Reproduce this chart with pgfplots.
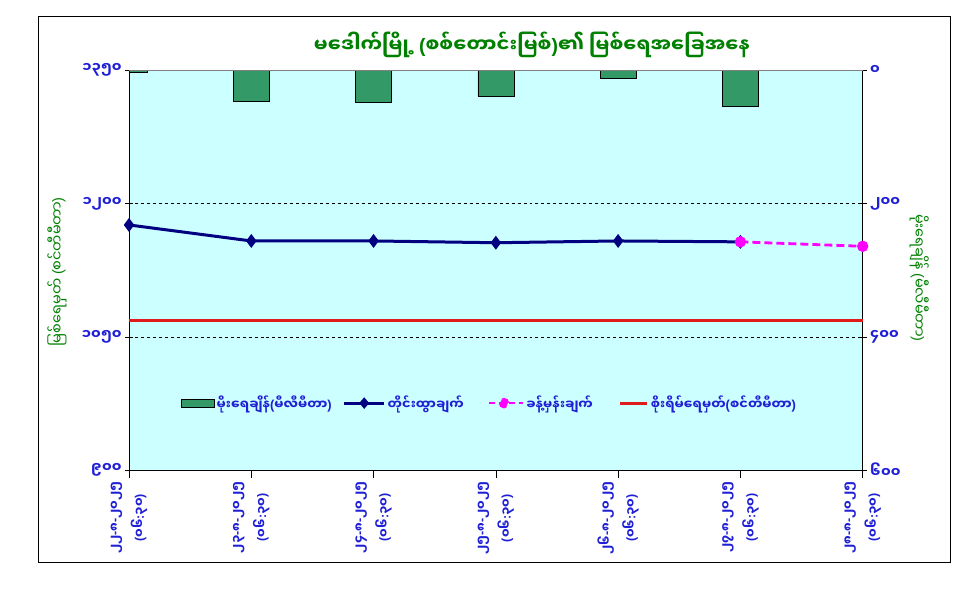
\documentclass[border=0pt]{standalone}
\usepackage{fontspec}
\setmainfont[Script=Myanmar]{Noto Sans Myanmar UI}
\newfontfamily\latf{Liberation Sans}
\protected\def\LP{{\latf(}}
\protected\def\RP{{\latf)}}
\protected\def\HY{{\latf-}}
\protected\def\CL{{\latf:}}
\usepackage{pgfplots}
\pgfplotsset{compat=1.18}
\definecolor{bg}{HTML}{CCFFFF}
\definecolor{bargreen}{HTML}{339966}
\definecolor{navy}{HTML}{000080}
\definecolor{tickblue}{HTML}{1F1FD6}
\definecolor{labgreen}{HTML}{008000}
\definecolor{dangerred}{HTML}{E01A1A}
\definecolor{fcmag}{HTML}{FF00FF}
\begin{document}
\begin{tikzpicture}[x=1bp,y=1bp]
\path[use as bounding box] (0,0) rectangle (977,589);
\draw[black, line width=1bp] (38.7,26.7) rectangle (950,572);
\node[text=labgreen, font=\bfseries\fontsize{19.5}{23}\selectfont, anchor=center] at (532,544) {မဒေါက်မြို့ \LP စစ်တောင်းမြစ်\RP ၏ မြစ်ရေအခြေအနေ};

% rainfall axis (right, reversed)
\begin{axis}[
  at={(129bp,118.7bp)}, anchor=south west,
  scale only axis, width=733.7bp, height=400bp,
  xmin=0, xmax=6,
  ymin=0, ymax=600, y dir=reverse,
  axis x line=none,
  axis y line*=right,
  axis line style={black, line width=0.8bp},
  axis background/.style={fill=bg},
  ytick={0,200,400,600},
  yticklabels={၀,၂၀၀,၄၀၀,၆၀၀},
  ytick align=center,
  major tick length=8bp,
  tick style={black, line width=0.6bp},
  yticklabel style={text=tickblue, font=\bfseries\fontsize{14}{16}\selectfont},
  ylabel={မိုးရေချိန် \LP မီလီမီတာ\RP},
  every axis y label/.style={at={(rel axis cs:1.077,0.481)}, anchor=center, rotate=-90, text=labgreen, font=\fontsize{14.5}{16}\selectfont},
]
\addplot[ybar, bar width=36bp, fill=bargreen, draw=black, line width=0.6bp] coordinates {(0,3) (1,47) (2,48) (3,39) (4,12) (5,54)};
\end{axis}

% water level axis (left)
\begin{axis}[
  at={(129bp,118.7bp)}, anchor=south west,
  scale only axis, width=733.7bp, height=400bp,
  xmin=0, xmax=6,
  ymin=900, ymax=1350,
  axis x line*=bottom,
  axis y line*=left,
  axis line style={black, line width=0.8bp},
  clip=false,
  xtick={0,1,2,3,4,5,6},
  xticklabels={{၂၂\HY ၈\HY ၂၀၂၅\\\LP ၀၆\CL ၃၀\RP},{၂၃\HY ၈\HY ၂၀၂၅\\\LP ၀၆\CL ၃၀\RP},{၂၄\HY ၈\HY ၂၀၂၅\\\LP ၀၆\CL ၃၀\RP},{၂၅\HY ၈\HY ၂၀၂၅\\\LP ၀၆\CL ၃၀\RP},{၂၆\HY ၈\HY ၂၀၂၅\\\LP ၀၆\CL ၃၀\RP},{၂၇\HY ၈\HY ၂၀၂၅\\\LP ၀၆\CL ၃၀\RP},{၂၈\HY ၈\HY ၂၀၂၅\\\LP ၀၆\CL ၃၀\RP}},
  xticklabel style={rotate=90, anchor=east, align=center, text=tickblue, font=\bfseries\fontsize{12.5}{25}\selectfont},
  xtick align=outside,
  ytick={900,1050,1200,1350},
  yticklabels={၉၀၀,၁၀၅၀,၁၂၀၀,၁၃၅၀},
  ytick align=center,
  major tick length=8bp,
  tick style={black, line width=0.6bp},
  yticklabel style={text=tickblue, font=\bfseries\fontsize{14}{16}\selectfont},
  extra y ticks={1050,1200},
  extra y tick labels={},
  extra y tick style={ymajorgrids=true, major grid style={black, dashed, line width=0.5bp}},
  ylabel={မြစ်ရေမှတ် \LP စင်တီမီတာ\RP},
  every axis y label/.style={at={(rel axis cs:-0.098,0.496)}, anchor=center, rotate=90, text=labgreen, font=\fontsize{14.5}{16}\selectfont},
  legend columns=4,
  legend style={at={(rel axis cs:0.0709,0.168)}, anchor=west, inner sep=0pt, draw=none, fill=none, text=tickblue, font=\bfseries\fontsize{13}{15}\selectfont,
    /tikz/column 2/.style={column sep=9bp},
    /tikz/column 4/.style={column sep=22bp},
    /tikz/column 6/.style={column sep=24bp}},
]
\draw[gray, line width=0.8bp] (rel axis cs:0,1) -- (rel axis cs:1,1);
\addlegendimage{legend image code/.code={\draw[fill=bargreen, draw=black, line width=0.5bp] (0bp,-4bp) rectangle (33bp,4bp);}}
\addlegendentry{မိုးရေချိန်\LP မီလီမီတာ\RP}
\addplot[navy, line width=3bp, mark=diamond*, mark size=4.5bp, mark options={solid},
  legend image code/.code={\draw[navy, line width=3bp] (0bp,0bp) -- (40bp,0bp); \fill[navy] (20bp,3.5bp) -- (23bp,0bp) -- (20bp,-3.5bp) -- (17bp,0bp) -- cycle;}]
  coordinates {(0,1176) (1,1158) (2,1158) (3,1156) (4,1158) (5,1157)};
\addlegendentry{တိုင်းထွာချက်}
\addplot[fcmag, line width=2.8bp, dash pattern=on 8bp off 4bp, mark=*, mark size=4.2bp, mark options={solid},
  legend image code/.code={\draw[fcmag, line width=2.6bp, dash pattern=on 6bp off 4bp] (0bp,0bp) -- (34bp,0bp); \fill[fcmag] (15bp,0bp) circle (3.8bp);}]
  coordinates {(5,1157) (6,1152)};
\addlegendentry{ခန့်မှန်းချက်}
\addplot[dangerred, line width=3bp, mark=none,
  legend image code/.code={\draw[dangerred, line width=3bp] (0bp,0bp) -- (27bp,0bp);}]
  coordinates {(0,1069) (6,1069)};
\addlegendentry{စိုးရိမ်ရေမှတ်\LP စင်တီမီတာ\RP}
\end{axis}
\end{tikzpicture}
\end{document}
